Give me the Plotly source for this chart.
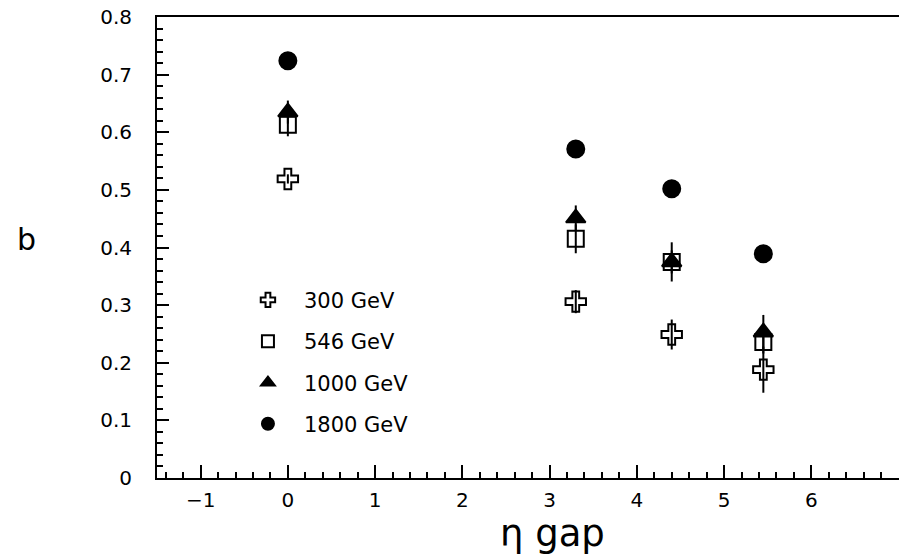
import plotly.graph_objects as go

eta_gap = [0.0, 3.3, 4.4, 5.45]
series_names = ["300 GeV", "546 GeV", "1000 GeV", "1800 GeV"]
b_300 = [0.519, 0.306, 0.249, 0.188]
err_300_plus = [0.008, 0.02, 0.026, 0.04]
err_300_minus = [0.008, 0.02, 0.026, 0.04]
b_546 = [0.613, 0.415, 0.375, 0.236]
err_546_plus = [0.02, 0.025, 0.02, 0.02]
err_546_minus = [0.02, 0.025, 0.02, 0.02]
b_1000 = [0.635, 0.451, 0.375, 0.253]
err_1000_plus = [0.02, 0.022, 0.034, 0.03]
err_1000_minus = [0.02, 0.022, 0.034, 0.03]
b_1800 = [0.724, 0.571, 0.502, 0.389]

x_ticks = [-1, 0, 1, 2, 3, 4, 5, 6, 7]
y_ticks = [0, 0.1, 0.2, 0.3, 0.4, 0.5, 0.6, 0.7, 0.8]
y_ticklabels = ["0", "0.1", "0.2", "0.3", "0.4", "0.5", "0.6", "0.7", "0.8"]

FONT = "DejaVu Sans, Verdana, sans-serif"

fig = go.Figure()

def add(name, yvals, ep, em, symbol, size, group):
    kw = {}
    if ep is not None:
        kw["error_y"] = dict(type="data", symmetric=False, array=ep, arrayminus=em,
                             color="black", thickness=2, width=0)
    fig.add_trace(go.Scatter(
        x=eta_gap, y=yvals, mode="markers", name=name, legendgroup=group,
        marker=dict(symbol=symbol, size=size, color="black",
                    line=dict(color="black", width=2)),
        **kw))

add(series_names[0], b_300, err_300_plus, err_300_minus, "cross-open", 17, "a")
add(series_names[1], b_546, err_546_plus, err_546_minus, "square-open", 16, "b")
add(series_names[2], b_1000, err_1000_plus, err_1000_minus, "triangle-up", 17, "c")
add(series_names[3], b_1800, None, None, "circle", 17, "d")

fig.update_layout(
    width=899, height=558,
    margin=dict(l=157, r=0, t=17, b=80),
    paper_bgcolor="white", plot_bgcolor="white",
    font=dict(family=FONT, color="black", size=20),
    showlegend=True,
    legend=dict(x=0.101, y=0.43, xanchor="left", yanchor="top",
                bgcolor="rgba(0,0,0,0)", font=dict(size=21, family=FONT),
                tracegroupgap=11, itemsizing="constant", itemwidth=62),
    xaxis=dict(range=[-1.5, 7.005], tickvals=x_ticks, ticks="inside", ticklen=13,
               tickwidth=2, tickcolor="black", showline=True, linecolor="black",
               linewidth=2, mirror=True, showgrid=False, zeroline=False,
               tickfont=dict(size=20), ticklabelstandoff=3,
               minor=dict(dtick=0.2, ticks="inside", ticklen=6, tickwidth=1.5,
                          tickcolor="black", showgrid=False)),
    yaxis=dict(range=[0, 0.8], tickvals=y_ticks, ticktext=y_ticklabels,
               ticks="inside", ticklen=12, tickwidth=2, tickcolor="black",
               showline=True, linecolor="black", linewidth=2, mirror=False,
               showgrid=False, zeroline=False, tickfont=dict(size=20),
               ticklabelstandoff=19,
               minor=dict(dtick=0.02, ticks="inside", ticklen=6, tickwidth=1.5,
                          tickcolor="black", showgrid=False)),
    annotations=[
        dict(text="b", x=(26 - 157) / 742, y=(478 - 240) / 461, xref="paper",
             yref="paper", showarrow=False, xanchor="center", yanchor="middle",
             font=dict(size=30, family=FONT)),
        dict(text="η gap", xref="paper", yref="paper", x=(552 - 157) / 742,
             y=(478 - 533) / 461, xanchor="center", yanchor="middle",
             showarrow=False, font=dict(size=37, family=FONT)),
    ],
)

fig.write_html("out.html")
